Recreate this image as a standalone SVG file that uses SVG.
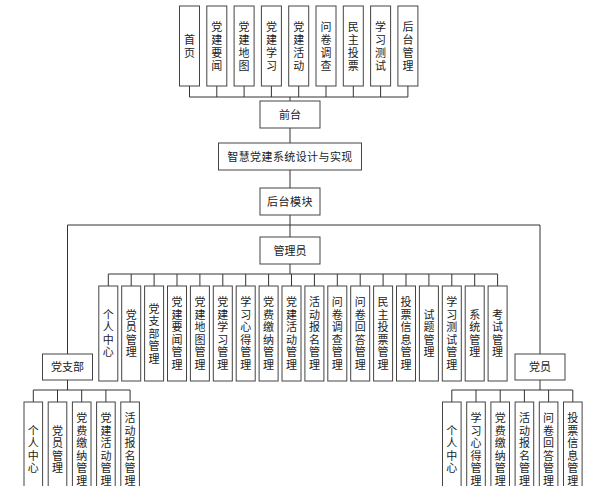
<svg xmlns="http://www.w3.org/2000/svg" width="600" height="486" viewBox="0 0 600 486">
<style>
.b{fill:#fff;stroke:#444;stroke-width:1}
.t{font-family:"Liberation Sans","Noto Sans CJK SC",sans-serif;font-size:11px;fill:#222;text-anchor:middle;dominant-baseline:central}
.c{fill:none;stroke:#333;stroke-width:1}
</style>
<rect width="600" height="486" fill="#fff"/>
<g id="connectors" class="c">
<path d="M189.5 86V97M216.8 86V97M244.1 86V97M271.4 86V97M298.7 86V97M326 86V97M353.3 86V97M380.6 86V97M407.9 86V97M189.5 97H407.9M290 97V101"/>
<path d="M290 128V143M290 170V188M290 215V237"/>
<path d="M67.5 354V225H540V354"/>
<path d="M290 264V274M108.3 274H497.6"/>
<path d="M108.3 274V286M131.2 274V286M154.1 274V286M177 274V286M199.9 274V286M222.8 274V286M245.7 274V286M268.6 274V286M291.5 274V286M314.4 274V286M337.3 274V286M360.2 274V286M383.1 274V286M406 274V286M428.9 274V286M451.8 274V286M474.7 274V286M497.6 274V286"/>
<path d="M67.5 380V390M33.3 390H130.1M33.3 390V402M57.5 390V402M81.7 390V402M105.9 390V402M130.1 390V402"/>
<path d="M540 380V390M451.8 390H572.8M451.8 390V402M476 390V402M500.2 390V402M524.4 390V402M548.6 390V402M572.8 390V402"/>
</g>
<g id="top-nodes">
<g id="n-shouye"><rect class="b" x="179.5" y="6" width="20" height="80"/><text class="t"><tspan x="189.5" y="39.5">首</tspan><tspan x="189.5" y="52.5">页</tspan></text></g>
<g id="n-yaowen"><rect class="b" x="206.8" y="6" width="20" height="80"/><text class="t"><tspan x="216.8" y="26.5">党</tspan><tspan x="216.8" y="39.5">建</tspan><tspan x="216.8" y="52.5">要</tspan><tspan x="216.8" y="65.5">闻</tspan></text></g>
<g id="n-ditu"><rect class="b" x="234.1" y="6" width="20" height="80"/><text class="t"><tspan x="244.1" y="26.5">党</tspan><tspan x="244.1" y="39.5">建</tspan><tspan x="244.1" y="52.5">地</tspan><tspan x="244.1" y="65.5">图</tspan></text></g>
<g id="n-xuexi"><rect class="b" x="261.4" y="6" width="20" height="80"/><text class="t"><tspan x="271.4" y="26.5">党</tspan><tspan x="271.4" y="39.5">建</tspan><tspan x="271.4" y="52.5">学</tspan><tspan x="271.4" y="65.5">习</tspan></text></g>
<g id="n-huodong"><rect class="b" x="288.7" y="6" width="20" height="80"/><text class="t"><tspan x="298.7" y="26.5">党</tspan><tspan x="298.7" y="39.5">建</tspan><tspan x="298.7" y="52.5">活</tspan><tspan x="298.7" y="65.5">动</tspan></text></g>
<g id="n-wenjuan"><rect class="b" x="316" y="6" width="20" height="80"/><text class="t"><tspan x="326" y="26.5">问</tspan><tspan x="326" y="39.5">卷</tspan><tspan x="326" y="52.5">调</tspan><tspan x="326" y="65.5">查</tspan></text></g>
<g id="n-toupiao"><rect class="b" x="343.3" y="6" width="20" height="80"/><text class="t"><tspan x="353.3" y="26.5">民</tspan><tspan x="353.3" y="39.5">主</tspan><tspan x="353.3" y="52.5">投</tspan><tspan x="353.3" y="65.5">票</tspan></text></g>
<g id="n-ceshi"><rect class="b" x="370.6" y="6" width="20" height="80"/><text class="t"><tspan x="380.6" y="26.5">学</tspan><tspan x="380.6" y="39.5">习</tspan><tspan x="380.6" y="52.5">测</tspan><tspan x="380.6" y="65.5">试</tspan></text></g>
<g id="n-houtai"><rect class="b" x="397.9" y="6" width="20" height="80"/><text class="t"><tspan x="407.9" y="26.5">后</tspan><tspan x="407.9" y="39.5">台</tspan><tspan x="407.9" y="52.5">管</tspan><tspan x="407.9" y="65.5">理</tspan></text></g>
</g>
<g id="n-qiantai"><rect class="b" x="260" y="101" width="60" height="27"/><text class="t" x="290" y="114.5">前台</text></g>
<g id="n-title"><rect class="b" x="218.5" y="143" width="143" height="27"/><text class="t" x="290" y="156.5" style="letter-spacing:0.4px">智慧党建系统设计与实现</text></g>
<g id="n-houtaimokuai"><rect class="b" x="260" y="188" width="60" height="27"/><text class="t" x="290" y="201.5" style="letter-spacing:0.5px">后台模块</text></g>
<g id="n-admin"><rect class="b" x="260" y="237" width="60" height="27"/><text class="t" x="290" y="250.5">管理员</text></g>
<g id="n-dangzhibu"><rect class="b" x="42.5" y="354" width="50" height="26"/><text class="t" x="67.5" y="367">党支部</text></g>
<g id="n-dangyuan"><rect class="b" x="515" y="354" width="50" height="26"/><text class="t" x="540" y="367">党员</text></g>
<g id="admin-children">
<g id="a1"><rect class="b" x="98.8" y="286" width="19" height="95"/><text class="t"><tspan x="108.3" y="314.8">个</tspan><tspan x="108.3" y="327.3">人</tspan><tspan x="108.3" y="339.8">中</tspan><tspan x="108.3" y="352.3">心</tspan></text></g>
<g id="a2"><rect class="b" x="121.7" y="286" width="19" height="95"/><text class="t"><tspan x="131.2" y="314.8">党</tspan><tspan x="131.2" y="327.3">员</tspan><tspan x="131.2" y="339.8">管</tspan><tspan x="131.2" y="352.3">理</tspan></text></g>
<g id="a3"><rect class="b" x="144.6" y="286" width="19" height="95"/><text class="t"><tspan x="154.1" y="308.5">党</tspan><tspan x="154.1" y="321">支</tspan><tspan x="154.1" y="333.5">部</tspan><tspan x="154.1" y="346">管</tspan><tspan x="154.1" y="358.5">理</tspan></text></g>
<g id="a4"><rect class="b" x="167.5" y="286" width="19" height="95"/><text class="t"><tspan x="177" y="302.3">党</tspan><tspan x="177" y="314.8">建</tspan><tspan x="177" y="327.3">要</tspan><tspan x="177" y="339.8">闻</tspan><tspan x="177" y="352.3">管</tspan><tspan x="177" y="364.8">理</tspan></text></g>
<g id="a5"><rect class="b" x="190.4" y="286" width="19" height="95"/><text class="t"><tspan x="199.9" y="302.3">党</tspan><tspan x="199.9" y="314.8">建</tspan><tspan x="199.9" y="327.3">地</tspan><tspan x="199.9" y="339.8">图</tspan><tspan x="199.9" y="352.3">管</tspan><tspan x="199.9" y="364.8">理</tspan></text></g>
<g id="a6"><rect class="b" x="213.3" y="286" width="19" height="95"/><text class="t"><tspan x="222.8" y="302.3">党</tspan><tspan x="222.8" y="314.8">建</tspan><tspan x="222.8" y="327.3">学</tspan><tspan x="222.8" y="339.8">习</tspan><tspan x="222.8" y="352.3">管</tspan><tspan x="222.8" y="364.8">理</tspan></text></g>
<g id="a7"><rect class="b" x="236.2" y="286" width="19" height="95"/><text class="t"><tspan x="245.7" y="302.3">学</tspan><tspan x="245.7" y="314.8">习</tspan><tspan x="245.7" y="327.3">心</tspan><tspan x="245.7" y="339.8">得</tspan><tspan x="245.7" y="352.3">管</tspan><tspan x="245.7" y="364.8">理</tspan></text></g>
<g id="a8"><rect class="b" x="259.1" y="286" width="19" height="95"/><text class="t"><tspan x="268.6" y="302.3">党</tspan><tspan x="268.6" y="314.8">费</tspan><tspan x="268.6" y="327.3">缴</tspan><tspan x="268.6" y="339.8">纳</tspan><tspan x="268.6" y="352.3">管</tspan><tspan x="268.6" y="364.8">理</tspan></text></g>
<g id="a9"><rect class="b" x="282" y="286" width="19" height="95"/><text class="t"><tspan x="291.5" y="302.3">党</tspan><tspan x="291.5" y="314.8">建</tspan><tspan x="291.5" y="327.3">活</tspan><tspan x="291.5" y="339.8">动</tspan><tspan x="291.5" y="352.3">管</tspan><tspan x="291.5" y="364.8">理</tspan></text></g>
<g id="a10"><rect class="b" x="304.9" y="286" width="19" height="95"/><text class="t"><tspan x="314.4" y="302.3">活</tspan><tspan x="314.4" y="314.8">动</tspan><tspan x="314.4" y="327.3">报</tspan><tspan x="314.4" y="339.8">名</tspan><tspan x="314.4" y="352.3">管</tspan><tspan x="314.4" y="364.8">理</tspan></text></g>
<g id="a11"><rect class="b" x="327.8" y="286" width="19" height="95"/><text class="t"><tspan x="337.3" y="302.3">问</tspan><tspan x="337.3" y="314.8">卷</tspan><tspan x="337.3" y="327.3">调</tspan><tspan x="337.3" y="339.8">查</tspan><tspan x="337.3" y="352.3">管</tspan><tspan x="337.3" y="364.8">理</tspan></text></g>
<g id="a12"><rect class="b" x="350.7" y="286" width="19" height="95"/><text class="t"><tspan x="360.2" y="302.3">问</tspan><tspan x="360.2" y="314.8">卷</tspan><tspan x="360.2" y="327.3">回</tspan><tspan x="360.2" y="339.8">答</tspan><tspan x="360.2" y="352.3">管</tspan><tspan x="360.2" y="364.8">理</tspan></text></g>
<g id="a13"><rect class="b" x="373.6" y="286" width="19" height="95"/><text class="t"><tspan x="383.1" y="302.3">民</tspan><tspan x="383.1" y="314.8">主</tspan><tspan x="383.1" y="327.3">投</tspan><tspan x="383.1" y="339.8">票</tspan><tspan x="383.1" y="352.3">管</tspan><tspan x="383.1" y="364.8">理</tspan></text></g>
<g id="a14"><rect class="b" x="396.5" y="286" width="19" height="95"/><text class="t"><tspan x="406" y="302.3">投</tspan><tspan x="406" y="314.8">票</tspan><tspan x="406" y="327.3">信</tspan><tspan x="406" y="339.8">息</tspan><tspan x="406" y="352.3">管</tspan><tspan x="406" y="364.8">理</tspan></text></g>
<g id="a15"><rect class="b" x="419.4" y="286" width="19" height="95"/><text class="t"><tspan x="428.9" y="314.8">试</tspan><tspan x="428.9" y="327.3">题</tspan><tspan x="428.9" y="339.8">管</tspan><tspan x="428.9" y="352.3">理</tspan></text></g>
<g id="a16"><rect class="b" x="442.3" y="286" width="19" height="95"/><text class="t"><tspan x="451.8" y="302.3">学</tspan><tspan x="451.8" y="314.8">习</tspan><tspan x="451.8" y="327.3">测</tspan><tspan x="451.8" y="339.8">试</tspan><tspan x="451.8" y="352.3">管</tspan><tspan x="451.8" y="364.8">理</tspan></text></g>
<g id="a17"><rect class="b" x="465.2" y="286" width="19" height="95"/><text class="t"><tspan x="474.7" y="314.8">系</tspan><tspan x="474.7" y="327.3">统</tspan><tspan x="474.7" y="339.8">管</tspan><tspan x="474.7" y="352.3">理</tspan></text></g>
<g id="a18"><rect class="b" x="488.1" y="286" width="19" height="95"/><text class="t"><tspan x="497.6" y="314.8">考</tspan><tspan x="497.6" y="327.3">试</tspan><tspan x="497.6" y="339.8">管</tspan><tspan x="497.6" y="352.3">理</tspan></text></g>
</g>
<g id="branch-children">
<g id="b1"><rect class="b" x="24" y="402" width="18.6" height="95"/><text class="t"><tspan x="33.3" y="430.8">个</tspan><tspan x="33.3" y="443.3">人</tspan><tspan x="33.3" y="455.8">中</tspan><tspan x="33.3" y="468.3">心</tspan></text></g>
<g id="b2"><rect class="b" x="48.2" y="402" width="18.6" height="95"/><text class="t"><tspan x="57.5" y="430.8">党</tspan><tspan x="57.5" y="443.3">员</tspan><tspan x="57.5" y="455.8">管</tspan><tspan x="57.5" y="468.3">理</tspan></text></g>
<g id="b3"><rect class="b" x="72.4" y="402" width="18.6" height="95"/><text class="t"><tspan x="81.7" y="418.3">党</tspan><tspan x="81.7" y="430.8">费</tspan><tspan x="81.7" y="443.3">缴</tspan><tspan x="81.7" y="455.8">纳</tspan><tspan x="81.7" y="468.3">管</tspan><tspan x="81.7" y="480.8">理</tspan></text></g>
<g id="b4"><rect class="b" x="96.6" y="402" width="18.6" height="95"/><text class="t"><tspan x="105.9" y="418.3">党</tspan><tspan x="105.9" y="430.8">建</tspan><tspan x="105.9" y="443.3">活</tspan><tspan x="105.9" y="455.8">动</tspan><tspan x="105.9" y="468.3">管</tspan><tspan x="105.9" y="480.8">理</tspan></text></g>
<g id="b5"><rect class="b" x="120.8" y="402" width="18.6" height="95"/><text class="t"><tspan x="130.1" y="418.3">活</tspan><tspan x="130.1" y="430.8">动</tspan><tspan x="130.1" y="443.3">报</tspan><tspan x="130.1" y="455.8">名</tspan><tspan x="130.1" y="468.3">管</tspan><tspan x="130.1" y="480.8">理</tspan></text></g>
</g>
<g id="member-children">
<g id="m1"><rect class="b" x="442.5" y="402" width="18.6" height="95"/><text class="t"><tspan x="451.8" y="430.8">个</tspan><tspan x="451.8" y="443.3">人</tspan><tspan x="451.8" y="455.8">中</tspan><tspan x="451.8" y="468.3">心</tspan></text></g>
<g id="m2"><rect class="b" x="466.7" y="402" width="18.6" height="95"/><text class="t"><tspan x="476" y="418.3">学</tspan><tspan x="476" y="430.8">习</tspan><tspan x="476" y="443.3">心</tspan><tspan x="476" y="455.8">得</tspan><tspan x="476" y="468.3">管</tspan><tspan x="476" y="480.8">理</tspan></text></g>
<g id="m3"><rect class="b" x="490.9" y="402" width="18.6" height="95"/><text class="t"><tspan x="500.2" y="418.3">党</tspan><tspan x="500.2" y="430.8">费</tspan><tspan x="500.2" y="443.3">缴</tspan><tspan x="500.2" y="455.8">纳</tspan><tspan x="500.2" y="468.3">管</tspan><tspan x="500.2" y="480.8">理</tspan></text></g>
<g id="m4"><rect class="b" x="515.1" y="402" width="18.6" height="95"/><text class="t"><tspan x="524.4" y="418.3">活</tspan><tspan x="524.4" y="430.8">动</tspan><tspan x="524.4" y="443.3">报</tspan><tspan x="524.4" y="455.8">名</tspan><tspan x="524.4" y="468.3">管</tspan><tspan x="524.4" y="480.8">理</tspan></text></g>
<g id="m5"><rect class="b" x="539.3" y="402" width="18.6" height="95"/><text class="t"><tspan x="548.6" y="418.3">问</tspan><tspan x="548.6" y="430.8">卷</tspan><tspan x="548.6" y="443.3">回</tspan><tspan x="548.6" y="455.8">答</tspan><tspan x="548.6" y="468.3">管</tspan><tspan x="548.6" y="480.8">理</tspan></text></g>
<g id="m6"><rect class="b" x="563.5" y="402" width="18.6" height="95"/><text class="t"><tspan x="572.8" y="418.3">投</tspan><tspan x="572.8" y="430.8">票</tspan><tspan x="572.8" y="443.3">信</tspan><tspan x="572.8" y="455.8">息</tspan><tspan x="572.8" y="468.3">管</tspan><tspan x="572.8" y="480.8">理</tspan></text></g>
</g>
</svg>
